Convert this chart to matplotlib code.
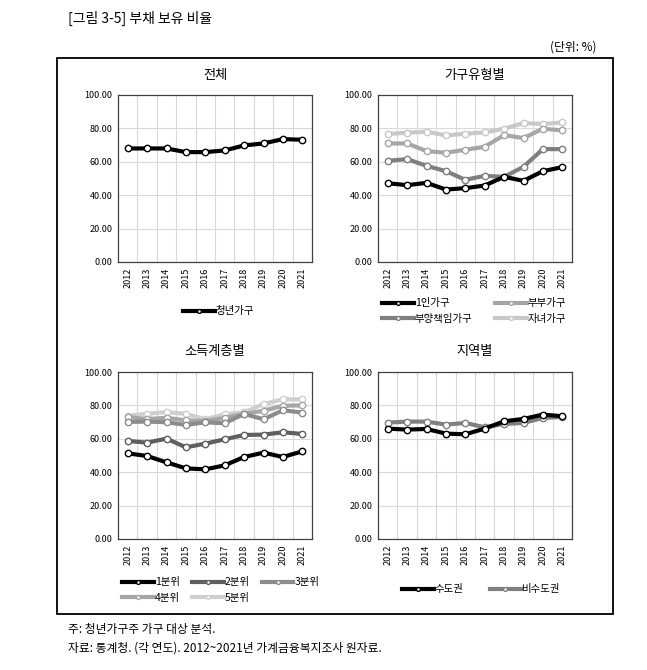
"""
Debt holding ratio of young households, 2012-2021
"""

import matplotlib
matplotlib.use('Agg')
import matplotlib.pyplot as plt
from matplotlib.patches import Rectangle

plt.rcParams['font.family'] = ['Noto Sans CJK KR', 'DejaVu Sans']

years = ['2012', '2013', '2014', '2015', '2016', '2017', '2018', '2019', '2020', '2021']

# 전체
total = [68.0, 68.0, 68.0, 65.8, 65.8, 66.8, 69.8, 71.0, 73.6, 73.2]

# 가구유형별
single = [47.2, 46.0, 47.4, 43.4, 44.2, 45.8, 51.0, 48.6, 54.4, 56.8]
couple = [71.0, 71.0, 66.4, 65.4, 67.2, 69.0, 76.0, 74.2, 79.8, 78.8]
support = [60.6, 61.6, 57.6, 54.4, 49.2, 51.6, 51.0, 57.0, 67.6, 67.6]
children = [76.6, 77.4, 78.0, 75.8, 76.8, 77.6, 79.8, 83.2, 82.6, 83.6]

# 소득계층별
q1 = [51.3, 49.7, 45.9, 42.3, 41.7, 44.1, 49.1, 51.7, 49.1, 52.5]
q2 = [58.7, 57.7, 60.1, 54.9, 57.1, 59.7, 62.3, 62.5, 63.9, 62.9]
q3 = [70.1, 70.3, 69.9, 68.3, 69.9, 69.3, 74.9, 71.7, 77.1, 75.7]
q4 = [73.0, 71.8, 72.6, 71.0, 70.7, 72.5, 74.9, 76.8, 79.8, 80.0]
q5 = [73.8, 75.0, 76.0, 74.9, 71.7, 74.7, 75.9, 80.8, 83.6, 83.6]

# 지역별
capital = [66.1, 65.5, 65.9, 63.1, 62.7, 66.1, 70.5, 71.9, 74.5, 73.5]
noncapital = [69.7, 70.3, 70.3, 68.5, 69.5, 66.9, 68.9, 69.5, 72.5, 73.1]

W, H = 647, 670
fig = plt.figure(figsize=(W / 100, H / 100), dpi=100)


def px(x, y):
    return x / W, 1 - y / H


def make_axes(left, top, right, bottom, title):
    x0, y0 = px(left, bottom)
    x1, y1 = px(right, top)
    ax = fig.add_axes([x0, y0, x1 - x0, y1 - y0])
    ax.set_xlim(-0.5, len(years) - 0.5)
    ax.set_ylim(0, 100)
    ax.set_yticks([0, 20, 40, 60, 80, 100])
    ax.set_yticklabels(['%.2f' % v for v in [0, 20, 40, 60, 80, 100]], fontsize=6.5)
    ax.set_xticks(range(len(years)))
    ax.set_xticklabels(years, rotation=90, fontsize=6.5)
    ax.tick_params(length=0, pad=4)
    for i in range(len(years) - 1):
        ax.axvline(i + 0.5, color='#d9d9d9', lw=0.8, zorder=0)
    for v in [20, 40, 60, 80]:
        ax.axhline(v, color='#d9d9d9', lw=0.8, zorder=0)
    for s in ax.spines.values():
        s.set_color('#404040')
        s.set_linewidth(0.9)
    cx = (left + right) / 2 / W
    fig.text(cx, 1 - (top - 20) / H, title, ha='center', va='center', fontsize=9.5)
    return ax


def draw(ax, values, color, label):
    ax.plot(range(len(years)), values, color=color, lw=3, marker='o', markersize=4.6,
            markerfacecolor='white', markeredgecolor=color, markeredgewidth=1.0,
            label=label, zorder=3)


def legend(ax, order, anchor, ncol, spacing):
    h, l = ax.get_legend_handles_labels()
    ax.legend([h[i] for i in order], [l[i] for i in order], loc='upper left', ncol=ncol,
              bbox_to_anchor=px(*anchor), bbox_transform=fig.transFigure, frameon=False,
              fontsize=7.5, handlelength=3, handletextpad=0.1, columnspacing=spacing,
              labelspacing=0.55, markerscale=0.6)


ax1 = make_axes(118, 95, 312, 262, '전체')
draw(ax1, total, '#000000', '청년가구')
legend(ax1, [0], (174, 297), 1, 1)

ax2 = make_axes(378, 95, 572, 262, '가구유형별')
draw(ax2, children, '#c8c8c8', '자녀가구')   # 0
draw(ax2, couple, '#a6a6a6', '부부가구')     # 1
draw(ax2, support, '#7f7f7f', '부양책임가구')  # 2
draw(ax2, single, '#000000', '1인가구')      # 3
legend(ax2, [3, 2, 1, 0], (373, 289), 2, 2.2)

ax3 = make_axes(118, 372, 312, 539, '소득계층별')
draw(ax3, q5, '#cfcfcf', '5분위')  # 0
draw(ax3, q4, '#a6a6a6', '4분위')  # 1
draw(ax3, q3, '#8c8c8c', '3분위')  # 2
draw(ax3, q2, '#5f5f5f', '2분위')  # 3
draw(ax3, q1, '#000000', '1분위')  # 4
legend(ax3, [4, 1, 3, 0, 2], (113, 568), 3, 1.2)

ax4 = make_axes(378, 372, 572, 539, '지역별')
draw(ax4, noncapital, '#808080', '비수도권')
draw(ax4, capital, '#000000', '수도권')
legend(ax4, [1, 0], (393, 575), 2, 2.5)

# outer frame and captions
x0, y0 = px(57, 614)
x1, y1 = px(613, 58)
fig.patches.append(Rectangle((x0, y0), x1 - x0, y1 - y0, transform=fig.transFigure,
                             fill=False, edgecolor='#000000', lw=1.3))
fig.text(*px(68, 18), '[그림 3-5] 부채 보유 비율', ha='left', va='center', fontsize=10)
fig.text(*px(596, 47), '(단위: %)', ha='right', va='center', fontsize=8.5)
fig.text(*px(68, 630), '주: 청년가구주 가구 대상 분석.', ha='left', va='center', fontsize=8.5)
fig.text(*px(68, 648), '자료: 통계청. (각 연도). 2012~2021년 가계금융복지조사 원자료.',
         ha='left', va='center', fontsize=8.5)

fig.savefig('out.png', dpi=100)
